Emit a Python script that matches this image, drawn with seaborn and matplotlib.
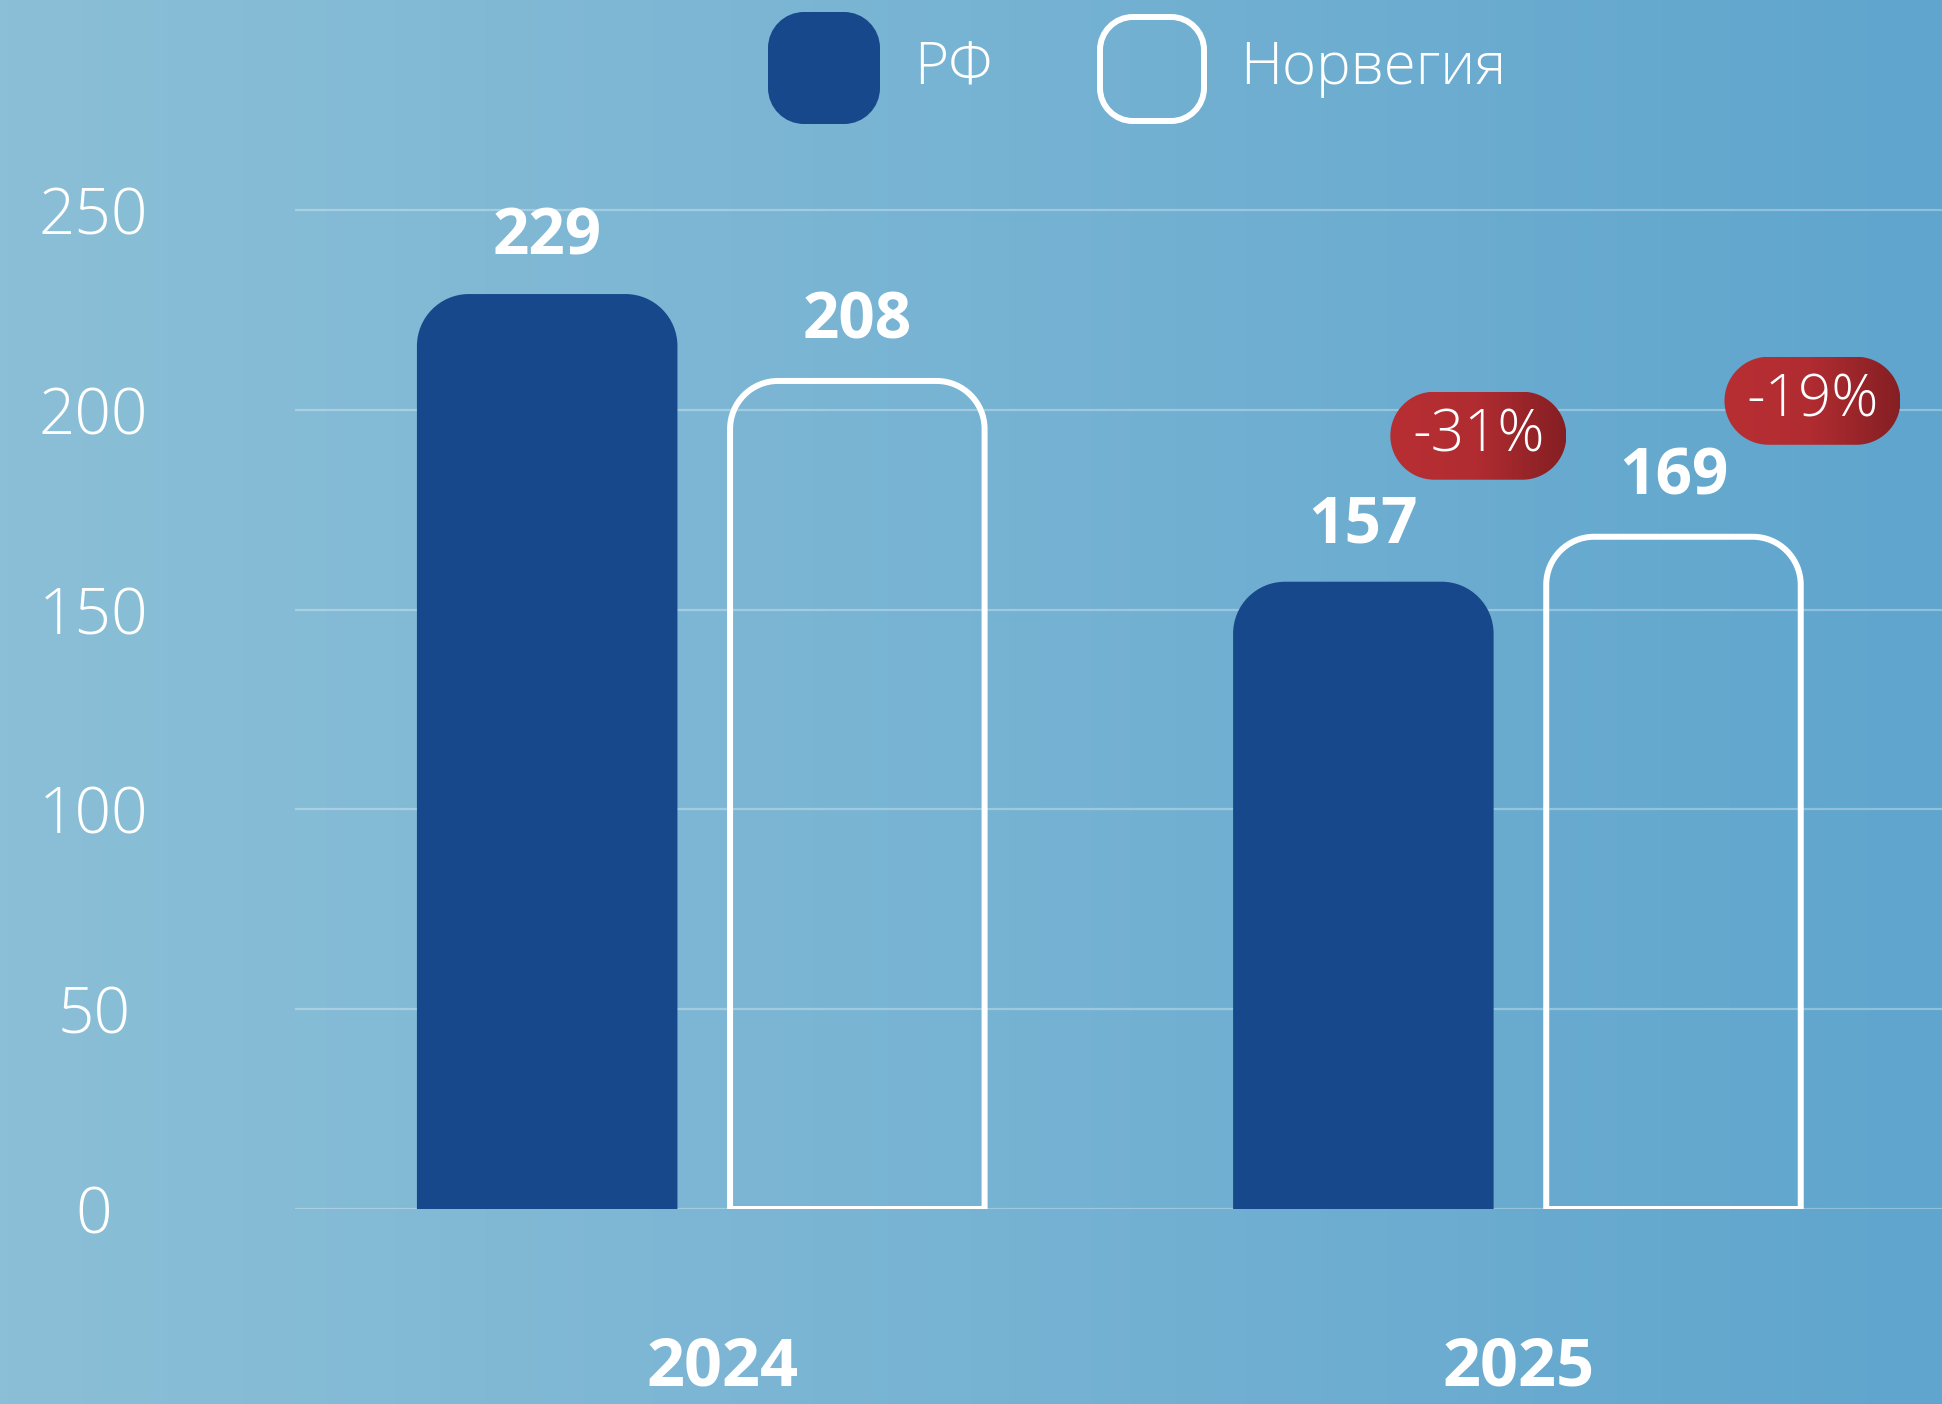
import numpy as np
import pandas as pd
import matplotlib.pyplot as plt
import seaborn as sns
import matplotlib.transforms as mtransforms
from matplotlib.path import Path
from matplotlib.patches import PathPatch
from matplotlib.colors import LinearSegmentedColormap

# data
years = ['2024', '2025']
countries = ['РФ', 'Норвегия']
rf_vals = [229, 157]
no_vals = [208, 169]
changes = ['-31%', '-19%']   # 2025 vs 2024, RF then Norway
yticks = [0, 50, 100, 150, 200, 250]

df = pd.DataFrame({
    'year': years * 2,
    'country': [countries[0]] * 2 + [countries[1]] * 2,
    'value': rf_vals + no_vals,
})

DARK = '#17488b'
FONT = 'Open Sans'
W, H = 1942, 1404
K = 0.5523

fig = plt.figure(figsize=(W / 100, H / 100), dpi=100)

# background gradient
bg = fig.add_axes([0, 0, 1, 1])
bg_cmap = LinearSegmentedColormap.from_list('bg', ['#8bbfd7', '#77b3d3', '#5fa5cd'])
grad = np.tile(np.linspace(0, 1, 256), (16, 1))
bg.imshow(grad, cmap=bg_cmap, aspect='auto', extent=[0, 1, 0, 1])
bg.axis('off')

ax = fig.add_axes([295 / W, 195 / H, 1647 / W, 1046 / H])
ax.patch.set_alpha(0)

sns.barplot(data=df, x='year', y='value', hue='country', palette=[DARK, 'white'],
            width=0.76, gap=0.16, saturation=1, legend=False, ax=ax)

XLIM = (-0.499, 1.519)
YLIM = (0, 261.8)
ax.set_xlim(*XLIM)
ax.set_ylim(*YLIM)
sx = (XLIM[1] - XLIM[0]) / 1647   # data units per pixel
sy = (YLIM[1] - YLIM[0]) / 1046


def top_rounded(x0, w, h, r):
    rx, ry = r * sx, r * sy
    x1 = x0 + w
    verts = [(x0, 0), (x0, h - ry),
             (x0, h - ry + K * ry), (x0 + rx - K * rx, h), (x0 + rx, h),
             (x1 - rx, h),
             (x1 - rx + K * rx, h), (x1, h - ry + K * ry), (x1, h - ry),
             (x1, 0), (x0, 0)]
    codes = [Path.MOVETO, Path.LINETO,
             Path.CURVE4, Path.CURVE4, Path.CURVE4,
             Path.LINETO,
             Path.CURVE4, Path.CURVE4, Path.CURVE4,
             Path.LINETO, Path.CLOSEPOLY]
    return Path(verts, codes)


def round_rect(x0, y0, w, h, r):
    # pixel-space rounded rectangle with circular (cubic) corners
    x1, y1 = x0 + w, y0 + h
    verts, codes = [(x0 + r, y0)], [Path.MOVETO]
    corners = [((x1 - r, y0), (x1, y0), (x1, y0 + r)),
               ((x1, y1 - r), (x1, y1), (x1 - r, y1)),
               ((x0 + r, y1), (x0, y1), (x0, y1 - r)),
               ((x0, y0 + r), (x0, y0), (x0 + r, y0))]
    for a, c, b in corners:
        verts.append(a)
        codes.append(Path.LINETO)
        verts += [(a[0] + K * (c[0] - a[0]), a[1] + K * (c[1] - a[1])),
                  (b[0] + K * (c[0] - b[0]), b[1] + K * (c[1] - b[1])), b]
        codes += [Path.CURVE4] * 3
    verts.append((x0 + r, y0))
    codes.append(Path.CLOSEPOLY)
    return Path(verts, codes)


bar_tops = {}
for cont, country in zip(ax.containers, countries):
    for rect, yr in zip(cont.patches, years):
        x0, w, h = rect.get_x(), rect.get_width(), rect.get_height()
        rect.set_visible(False)
        if country == countries[0]:
            p = PathPatch(top_rounded(x0, w, h, 52), facecolor=DARK, edgecolor='none', zorder=3)
        else:
            lw = 6
            p = PathPatch(top_rounded(x0 + lw / 2 * sx, w - lw * sx, h - lw / 2 * sy, 48),
                          facecolor='none', edgecolor='white', lw=lw * 0.72, zorder=3)
        ax.add_patch(p)
        xc = x0 + w / 2
        bar_tops[(country, yr)] = (xc, h)
        ax.annotate(str(int(h)), (xc, h), xytext=(0, 40), textcoords='offset points',
                    ha='center', va='center', color='white', fontsize=46,
                    fontweight='bold', family=FONT, zorder=5)

# axes styling
ax.set_yticks(yticks)
ax.set_yticklabels([str(t) for t in yticks], fontsize=46, fontweight='light', family=FONT, color='white')
for lbl in ax.get_yticklabels():
    lbl.set_ha('center')
ax.tick_params(axis='y', length=0, pad=145)
ax.set_xticks(range(len(years)))
ax.set_xticklabels(years, fontsize=48, fontweight='bold', family=FONT, color='white')
ax.tick_params(axis='x', length=0, pad=90)
first = ax.get_xticklabels()[0]
first.set_transform(first.get_transform() + mtransforms.ScaledTranslation(0.2, 0, fig.dpi_scale_trans))
ax.yaxis.grid(True, color='white', alpha=0.3, lw=1.6)
ax.set_axisbelow(True)
for s in ax.spines.values():
    s.set_visible(False)
ax.set_xlabel('')
ax.set_ylabel('')
ax.set_xlim(*XLIM)
ax.set_ylim(*YLIM)

# overlay in pixel coordinates (legend, badges)
lg = fig.add_axes([0, 0, 1, 1])
lg.set_xlim(0, W)
lg.set_ylim(H, 0)
lg.axis('off')
lg.add_patch(PathPatch(round_rect(768, 12, 112, 112, 36), facecolor=DARK, edgecolor='none'))
lg.add_patch(PathPatch(round_rect(1100, 17, 104, 104, 33), facecolor='none',
                       edgecolor='white', lw=4.3))
lg.text(914, 68, countries[0], ha='left', va='center', color='white', fontsize=42,
        fontweight='light', family=FONT)
lg.text(1240, 68, countries[1], ha='left', va='center', color='white', fontsize=42,
        fontweight='light', family=FONT)

# change badges for 2025, placed relative to bar tops
badge_cmap = LinearSegmentedColormap.from_list('badge', ['#b82f33', '#b02c31', '#851f23'])
offsets = [(115, 146), (139, 133)]
fig.canvas.draw()
for country, txt, (dx, dy) in zip(countries, changes, offsets):
    xc, h = bar_tops[(country, years[1])]
    px, py = ax.transData.transform((xc, h))
    cx, cy = px + dx, H - py - dy
    bw, bh = 176, 88
    pill = PathPatch(round_rect(cx - bw / 2, cy - bh / 2, bw, bh, bh / 2),
                     facecolor='none', edgecolor='none', zorder=6)
    lg.add_patch(pill)
    im = lg.imshow(np.tile(np.linspace(0, 1, 64), (4, 1)), cmap=badge_cmap, aspect='auto',
                   extent=[cx - bw / 2, cx + bw / 2, cy + bh / 2, cy - bh / 2], zorder=6)
    im.set_clip_path(pill)
    lg.text(cx, cy, txt, ha='center', va='center', color='white', fontsize=42,
            fontweight='light', family=FONT, zorder=7)
lg.set_xlim(0, W)
lg.set_ylim(H, 0)

fig.savefig('out.png', dpi=100)
